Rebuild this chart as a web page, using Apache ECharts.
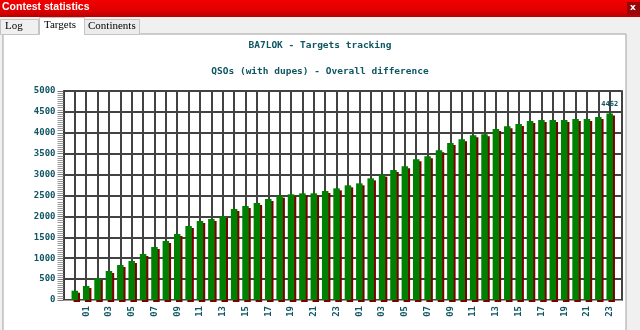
<!DOCTYPE html>
<html>
<head>
<meta charset="utf-8">
<script src="https://cdn.jsdelivr.net/npm/echarts@6/dist/echarts.min.js"></script>
<style>
html,body{margin:0;padding:0;background:#f0f0f0;}
#chart{width:640px;height:330px;}
</style>
</head>
<body>
<div id="chart"></div>
<script>
// ---- data ----
const hours = ['00','01','02','03','04','05','06','07','08','09','10','11','12','13','14','15','16','17','18','19','20','21','22','23',
               '00','01','02','03','04','05','06','07','08','09','10','11','12','13','14','15','16','17','18','19','20','21','22','23'];
const qsoTotals = [222,335,526,694,837,933,1100,1268,1411,1579,1770,1890,1938,2010,2177,2249,2320,2416,2496,2528,2552,2552,2607,2671,
                   2743,2791,2911,2998,3110,3198,3365,3437,3580,3755,3843,3939,3963,4090,4154,4210,4282,4306,4306,4306,4330,4330,4378,4462];
const yMin = 0, yMax = 5000, yStep = 500;
const windowTitle = 'Contest statistics';
const tabNames = ['Log', 'Targets', 'Continents'];
const chartTitle = 'BA7LOK - Targets tracking';
const chartSubtitle = 'QSOs (with dupes) - Overall difference';

// ---- styles ----
const teal = '#0e5662';
const mono = 'DejaVu Sans Mono';
const gridLine = '#424242';

const chart = echarts.init(document.getElementById('chart'), null, {renderer: 'canvas'});

const barData = qsoTotals.map((v, i) => i === qsoTotals.length - 1
  ? {value: v, label: {show: true}}
  : v);

const oddOnly = (index) => index % 2 === 1;

chart.setOption({
  animation: false,
  backgroundColor: '#f0f0f0',
  title: [
    {text: chartTitle, left: 'center', top: 36,
     textStyle: {fontFamily: mono, fontWeight: 'bold', fontSize: 9.5, color: teal}},
    {text: chartSubtitle, left: 'center', top: 62,
     textStyle: {fontFamily: mono, fontWeight: 'bold', fontSize: 9.5, color: teal}}
  ],
  graphic: [
    {type: 'rect', z: -10, shape: {x: 3, y: 34, width: 623, height: 300},
     style: {fill: '#ffffff', stroke: '#a0a0a0', lineWidth: 1}},
    {type: 'rect', z: -5, shape: {x: 0, y: 0, width: 640, height: 17},
     style: {fill: new echarts.graphic.LinearGradient(0, 0, 0, 1, [
       {offset: 0, color: '#f20000'}, {offset: 0.6, color: '#e00000'}, {offset: 1, color: '#b80000'}])}},
    {type: 'text', z: -4, left: 2, top: 2,
     style: {text: windowTitle, fill: '#ffffff', font: 'bold 10.5px "Liberation Sans", Arial, sans-serif'}},
    {type: 'rect', z: -4, shape: {x: 627, y: 2, width: 13, height: 13},
     style: {fill: '#980808'}},
    {type: 'text', z: -3, left: 630, top: 3,
     style: {text: 'x', fill: '#ffffff', font: 'bold 9px "DejaVu Sans", sans-serif'}},
    {type: 'rect', z: -4, shape: {x: 0.5, y: 19.5, width: 38, height: 15},
     style: {fill: '#f0f0f0', stroke: '#c4c4c4', lineWidth: 1}},
    {type: 'rect', z: -4, shape: {x: 84.5, y: 19.5, width: 55, height: 15},
     style: {fill: '#ececec', stroke: '#c4c4c4', lineWidth: 1}},
    {type: 'rect', z: -3, shape: {x: 39.5, y: 17.5, width: 45, height: 17},
     style: {fill: '#ffffff', stroke: '#c4c4c4', lineWidth: 1}},
    {type: 'rect', z: -3, shape: {x: 40, y: 33, width: 44, height: 3},
     style: {fill: '#ffffff'}},
    {type: 'text', z: -2, left: 5, top: 21,
     style: {text: tabNames[0], fill: '#000', font: '11px "Liberation Serif", serif'}},
    {type: 'text', z: -2, left: 44, top: 20,
     style: {text: tabNames[1], fill: '#000', font: '11px "Liberation Serif", serif'}},
    {type: 'text', z: -2, left: 88, top: 21,
     style: {text: tabNames[2], fill: '#000', font: '11px "Liberation Serif", serif'}}
  ],
  grid: [
    {left: 69.1, right: 24.6, top: 91, bottom: 30},
    {left: 63.5, right: 18.5, top: 91, bottom: 30}
  ],
  xAxis: [
    {type: 'category', gridIndex: 0, data: hours, boundaryGap: true,
     axisLine: {show: false},
     axisTick: {show: true, alignWithLabel: true, interval: oddOnly, length: 2,
                lineStyle: {color: '#555', width: 1}},
     axisLabel: {show: true, interval: oddOnly, rotate: 90, margin: 6,
                 fontFamily: mono, fontWeight: 'bold', fontSize: 9, color: teal},
     splitLine: {show: true, alignWithLabel: true, interval: 0,
                 lineStyle: {color: gridLine, width: 2}}},
    {type: 'value', gridIndex: 1, min: 0, max: 1,
     axisLine: {show: true, lineStyle: {color: '#9a9a9a', width: 1}},
     axisTick: {show: false}, axisLabel: {show: false}, splitLine: {show: false}}
  ],
  yAxis: [
    {type: 'value', gridIndex: 0, min: yMin, max: yMax, interval: yStep, show: false},
    {type: 'value', gridIndex: 1, min: yMin, max: yMax, interval: yStep,
     axisLine: {show: true, lineStyle: {color: '#3a3a3a', width: 2}},
     axisTick: {show: true, length: 6, lineStyle: {color: '#777', width: 1}},
     minorTick: {show: true, splitNumber: 10, length: 6, lineStyle: {color: '#9a9a9a', width: 1}},
     axisLabel: {show: true, margin: 8, fontFamily: mono, fontWeight: 'bold', fontSize: 9, color: teal,
                 formatter: (v) => String(v)},
     splitLine: {show: true, lineStyle: {color: gridLine, width: 2}}},
    {type: 'value', gridIndex: 1, min: yMin, max: yMax, interval: yStep, position: 'right',
     axisLine: {show: true, lineStyle: {color: gridLine, width: 2}},
     axisTick: {show: false}, axisLabel: {show: false}, splitLine: {show: false}}
  ],
  series: [
    {type: 'bar', xAxisIndex: 0, yAxisIndex: 0, data: barData, barWidth: 6.5, z: 5,
     itemStyle: {color: '#008000', shadowColor: '#7a0000', shadowBlur: 0, shadowOffsetX: 2, shadowOffsetY: 2},
     label: {show: false, position: 'top', distance: 6,
             fontFamily: mono, fontWeight: 'bold', fontSize: 7, color: teal}}
  ]
});
</script>
</body>
</html>
